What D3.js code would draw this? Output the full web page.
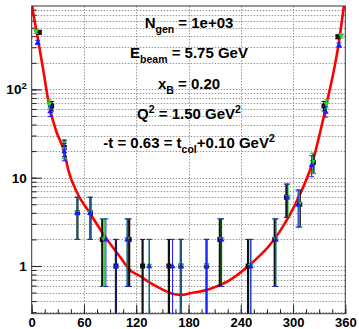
<!DOCTYPE html>
<html><head><meta charset="utf-8">
<script src="https://cdn.jsdelivr.net/npm/d3@7"></script>
<style>
html,body{margin:0;padding:0;background:#fff;}
svg{display:block;font-family:"Liberation Sans",Arial,Helvetica,sans-serif;font-weight:bold;}
</style></head>
<body>
<svg id="c" width="359" height="329"></svg>
<script>
// ---- data ----
const xTicks = [0, 60, 120, 180, 240, 300, 360];
const yTicks = [1, 10, 100];

const blackPhi = [8.7, 22.9, 37.5, 52.5, 67.5, 81, 96.7, 111.9, 127.3, 157.5, 171.2, 200.7, 216, 248.4, 279, 292.4, 307.7, 323.4, 335.6, 351.6];
const blackN   = [443, 65, 22, 4, 4, 2, 1, 2, 1, 1, 1, 1, 2, 1, 2, 6, 5, 15, 65, 395];

const greenPhi = [4.9, 20.2, 37.4, 52.3, 66.9, 83.3, 109.6, 134.9, 171.5, 200.7, 217.9, 251.5, 280.2, 294.2, 306.9, 322.5, 338.3, 355.5];
const greenN   = [450, 68, 21, 4, 4, 2, 2, 1, 1, 1, 2, 1, 2, 6, 5, 15, 68, 402];

const bluePhi  = [6.9, 21.3, 37.4, 52.3, 66.9, 85.2, 96.7, 109.6, 134.9, 161.7, 171.5, 200.7, 217.9, 251.5, 280.2, 293.5, 305.8, 321.4, 337.5, 352.8];
const blueN    = [341, 57, 20, 4, 4, 2, 1, 2, 1, 1, 1, 1, 2, 1, 2, 6, 5, 14, 56, 318];

// fitted curve
const fitPhi = [0, 0.7, 5.7, 12.6, 20.2, 28, 37.4, 42, 52.3, 66.9, 84.2, 101.3, 112.7, 124.2, 135.7, 147.1, 164.4, 172.4, 181.5, 204.5, 227.4, 250.3, 273.3, 284.7, 296.2, 307.7, 321.4, 337.5, 352.4, 358.5, 360];
const fitVal = [1000, 870, 447, 181, 65, 34, 19.5, 12.2, 6.7, 3.95, 2.15, 1.27, 0.9, 0.77, 0.647, 0.56, 0.478, 0.47, 0.49, 0.55, 0.69, 1.03, 1.73, 2.45, 3.78, 6.4, 14, 62, 330, 880, 1100];

const textLines = [
  [["N",""],["gen","sub"],[" = 1e+03",""]],
  [["E",""],["beam","sub"],[" = 5.75 GeV",""]],
  [["x",""],["B","sub"],[" = 0.20",""]],
  [["Q",""],["2","sup"],[" = 1.50 GeV",""],["2","sup"]],
  [["-t = 0.63 = t",""],["col","sub"],["+0.10 GeV",""],["2","sup"]]
];

// ---- layout ----
const L = 31.7, R = 345.3, T = 6, B = 313.7;
const svg = d3.select("#c");
const x = d3.scaleLinear().domain([0, 360]).range([L, R]);
const y = d3.scaleLog().domain([0.288, 880]).range([B, T]);

// grid
const minorY = [];
[0.1, 1, 10, 100].forEach(d => { for (let k = 1; k <= 9; k++) { const v = d * k; if (v >= 0.288 && v <= 880) minorY.push(v); } });
const grid = svg.append("g").attr("stroke", "#9a9a9a").attr("stroke-dasharray", "1.5,1.5").attr("stroke-width", 1);
grid.selectAll("line.gy").data(minorY).join("line")
  .attr("x1", L).attr("x2", R).attr("y1", d => Math.round(y(d)) + 0.5).attr("y2", d => Math.round(y(d)) + 0.5);
grid.selectAll("line.gx").data(xTicks.slice(1, -1)).join("line")
  .attr("y1", T).attr("y2", B).attr("x1", d => Math.round(x(d)) + 0.5).attr("x2", d => Math.round(x(d)) + 0.5);

// axes
const xMinor = d3.range(0, 361, 15);
svg.append("g").attr("transform", `translate(0,${B})`)
  .call(d3.axisBottom(x).tickValues(xMinor).tickSize(-4.5).tickFormat(""))
  .call(g => g.select(".domain").remove())
  .call(g => g.selectAll("line").attr("stroke", "#222"));
svg.append("g").attr("transform", `translate(0,${B})`)
  .call(d3.axisBottom(x).tickValues(xTicks).tickSize(-9).tickPadding(4.3))
  .call(g => g.select(".domain").remove())
  .call(g => g.selectAll("line").attr("stroke", "#222"))
  .call(g => g.selectAll("text").attr("font-size", 13).attr("font-weight", "bold")
      .attr("font-family", "Liberation Sans, Arial, sans-serif").attr("fill", "#000"));

svg.append("g").attr("transform", `translate(${L},0)`)
  .call(d3.axisLeft(y).tickValues(minorY).tickSize(-5).tickFormat(""))
  .call(g => g.select(".domain").remove())
  .call(g => g.selectAll("line").attr("stroke", "#222"));
svg.append("g").attr("transform", `translate(${L},0)`)
  .call(d3.axisLeft(y).tickValues(yTicks).tickSize(-10).tickPadding(5).tickFormat(d => d === 100 ? "" : String(d)))
  .call(g => g.select(".domain").remove())
  .call(g => g.selectAll("line").attr("stroke", "#222"))
  .call(g => g.selectAll("text").attr("font-size", 13.5).attr("font-weight", "bold")
      .attr("font-family", "Liberation Sans, Arial, sans-serif").attr("fill", "#000"))
  .call(g => g.selectAll(".tick").filter(d => d === 100).select("text")
      .call(t => { t.append("tspan").text("10"); t.append("tspan").attr("dy", -5).attr("font-size", 9.5).text("2"); }));

// clip
svg.append("clipPath").attr("id", "clip").append("rect").attr("x", L).attr("y", T).attr("width", R - L).attr("height", B - T);

// fit curve
const line = d3.line().x((d, i) => x(fitPhi[i])).y((d, i) => y(fitVal[i])).curve(d3.curveMonotoneX);
svg.append("path").attr("clip-path", "url(#clip)").attr("d", line(fitVal))
  .attr("fill", "none").attr("stroke", "#ff0000").attr("stroke-width", 2.6);

// data series
function drawSeries(phi, n, color, barW, marker) {
  const g = svg.append("g").attr("clip-path", "url(#clip)");
  const pts = phi.map((p, i) => ({ p, n: n[i] }));
  pts.forEach(d => {
    const e = Math.sqrt(d.n);
    const hi = y(d.n + e);
    const lo = d.n - e > 0.288 ? y(d.n - e) : B + 2;
    const cx = x(d.p);
    g.append("line").attr("x1", cx).attr("x2", cx).attr("y1", hi).attr("y2", lo)
      .attr("stroke", color).attr("stroke-width", barW);
    g.append("line").attr("x1", cx - 2.5).attr("x2", cx + 2.5).attr("y1", hi).attr("y2", hi)
      .attr("stroke", color).attr("stroke-width", 1);
    if (d.n - e > 0.288)
      g.append("line").attr("x1", cx - 2.5).attr("x2", cx + 2.5).attr("y1", lo).attr("y2", lo)
        .attr("stroke", color).attr("stroke-width", 1);
  });
  g.selectAll("path.m").data(pts).join("path")
    .attr("transform", d => `translate(${x(d.p)},${y(d.n)})`)
    .attr("d", marker).attr("fill", color);
}
const sq = "M-2.5,-2.5H2.5V2.5H-2.5Z";
const triDown = "M-3,-2.2H3L0,3Z";
const triUp = "M-3,2.2H3L0,-3Z";
drawSeries(blackPhi, blackN, "#111", 2.2, sq);
drawSeries(greenPhi, greenN, "#33cc33", 1.4, triDown);
drawSeries(bluePhi, blueN, "#1a1aff", 1, triUp);

// frame
svg.append("rect").attr("x", L).attr("y", T).attr("width", R - L).attr("height", B - T)
  .attr("fill", "none").attr("stroke", "#333").attr("stroke-width", 1);

// text block
const baselines = [28, 58, 89, 119, 148];
textLines.forEach((parts, i) => {
  const t = svg.append("text").attr("x", 189).attr("y", baselines[i]).attr("text-anchor", "middle")
    .attr("font-size", 15).attr("font-weight", "bold").attr("fill", "#000");
  let shift = 0;
  parts.forEach(([s, kind]) => {
    const target = kind === "sub" ? 4.5 : kind === "sup" ? -6 : 0;
    t.append("tspan").attr("dy", target - shift).attr("font-size", kind ? 10.5 : 15).text(s);
    shift = target;
  });
});
</script>
</body></html>
